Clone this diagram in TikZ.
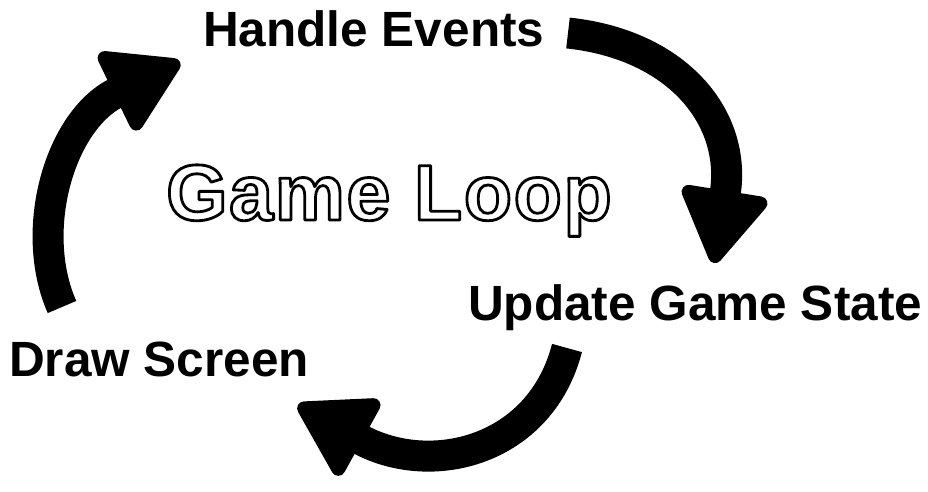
\documentclass[tikz,border=0pt]{standalone}
\usepackage{fontspec}
\setmainfont{Liberation Sans}
\usetikzlibrary{arrows.meta}

\newcommand{\outlinetext}[1]{\special{pdf:literal direct 2 Tr 0 G 2.8 w 1 j}#1\special{pdf:literal direct 0 Tr}}

\begin{document}
\begin{tikzpicture}[x=1pt,y=-1pt,
  lbl/.style={anchor=base west,inner sep=0pt,font=\fontsize{49.5}{58}\selectfont\bfseries},
  bigarrow/.style={line width=31pt,-{Triangle[length=80pt,width=94pt,line width=14pt,round]}}]

\useasboundingbox (0,0) rectangle (928,492);

\node[lbl] (handle) at (203,47) {Handle Events};
\node[lbl] (update) at (468,320) {Update Game State};
\node[lbl] (draw) at (9,376) {Draw Screen};
\node[anchor=base west,inner sep=0pt,text=white,
  font=\fontsize{79}{92}\selectfont\bfseries\addfontfeature{LetterSpace=2}]
  (title) at (166,220) {\outlinetext{Game Loop}};

\coordinate (d0) at (62,307);
\coordinate (d1) at (180,62);
\coordinate (h0) at (568,33);
\coordinate (h1) at (714,263);
\coordinate (u0) at (567,348);
\coordinate (u1) at (298,405);

\draw[bigarrow] (d0) .. controls (28,230) and (60,120) .. (d1);
\draw[bigarrow] (h0) .. controls (680,45) and (737,120) .. (h1);
\draw[bigarrow] (u0) .. controls (540,452) and (430,478) .. (u1);
\end{tikzpicture}
\end{document}
